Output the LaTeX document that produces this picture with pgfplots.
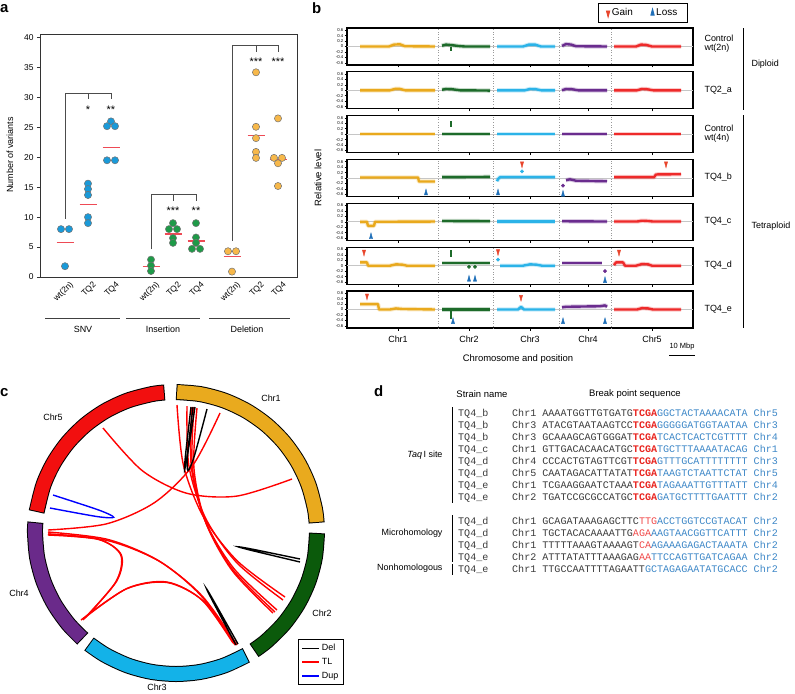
\documentclass[border=0pt]{standalone}
\usepackage{fontspec}
\setmainfont{Liberation Sans}
\setmonofont{Liberation Mono}
\usepackage{pgfplots}
\pgfplotsset{compat=1.18}
\definecolor{snv}{HTML}{1A9AD9}
\definecolor{ins}{HTML}{1E9A48}
\definecolor{del}{HTML}{F7B84A}
\definecolor{meanred}{HTML}{EE4A55}
\definecolor{cone}{HTML}{E9A91D}
\definecolor{ctwo}{HTML}{1D6B2A}
\definecolor{cthree}{HTML}{2BB3E8}
\definecolor{cfour}{HTML}{6A2C8E}
\definecolor{cfive}{HTML}{EE2A2A}
\definecolor{gainred}{HTML}{E8452C}
\definecolor{lossblue}{HTML}{1F6FB8}
\definecolor{ringone}{HTML}{E9AA1E}
\definecolor{ringtwo}{HTML}{0B5A0B}
\definecolor{ringthree}{HTML}{13B2E8}
\definecolor{ringfour}{HTML}{6A2A8A}
\definecolor{ringfive}{HTML}{F20F0F}
\definecolor{seqgray}{HTML}{3A3A3A}
\definecolor{seqblue}{HTML}{3D87C7}
\definecolor{seqred}{HTML}{E8231E}
\definecolor{seqredl}{HTML}{F04A4A}
\newcommand{\fs}[1]{\fontsize{#1}{#1}\selectfont}
\newcommand{\R}[1]{\textcolor{seqred}{\bfseries #1}}
\newcommand{\Rl}[1]{\textcolor{seqredl}{#1}}
\newcommand{\B}[1]{\textcolor{seqblue}{#1}}
\newcommand{\srow}[3]{%
 \node[anchor=base west, inner sep=0pt, font=\ttfamily\fs{10.1}, text=seqgray] at (458bp,-#1bp) {#2};
 \node[anchor=base west, inner sep=0pt, font=\ttfamily\fs{10.1}, text=seqgray] at (512bp,-#1bp) {#3};}
\pgfplotsset{
  pa/.style={only marks, mark=*, mark size=3.6bp, mark options={fill=#1, draw=black!55, line width=0.5bp}},
  ch/.style={forget plot, line width=2.4bp, line join=round, preaction={draw, line width=4.4bp, opacity=0.25}},
  gain/.style={forget plot, only marks, mark=triangle*, color=gainred, mark size=2.6bp, mark options={rotate=180, xscale=0.7, yscale=1.5}},
  loss/.style={forget plot, only marks, mark=triangle*, color=lossblue, mark size=2.6bp, mark options={xscale=0.7, yscale=1.5}},
  dot/.style={forget plot, only marks, mark=*, mark size=1.7bp},
  spike/.style={forget plot, line width=1.4bp},
  lk/.style={forget plot, smooth, line width=1.4bp},
  baxis/.style={scale only axis, width=346bp, height=37bp, xmin=347, xmax=693, ymin=-0.68, ymax=0.68,
    ytick={-0.6,-0.4,-0.2,0,0.2,0.4,0.6}, yticklabels={-0.6,-0.4,-0.2,0,0.2,0.4,0.6},
    yticklabel style={font=\fs{4.3}, inner sep=1pt},
    ytick pos=left, xtick pos=bottom, tick align=outside,
    xtick={398,469,530,588,652}, xticklabels={},
    axis line style={line width=1.3bp}, major tick length=2.5bp, tick style={line width=0.6bp, black},
    clip=true},
}
\newcommand{\brow}[3]{%
\begin{axis}[baxis, at={(347bp,-#1bp)}, anchor=north west, #2]
\addplot[forget plot, gray!45, line width=0.7bp] coordinates {(347,0) (693,0)};
\addplot[forget plot, gray!80, dotted, line width=0.6bp, unbounded coords=jump] coordinates {(438,-1) (438,1) (438,nan) (493,-1) (493,1) (493,nan) (559,-1) (559,1) (559,nan) (611,-1) (611,1)};
#3
\end{axis}}
\begin{document}
\begin{tikzpicture}
\useasboundingbox (0bp,0bp) rectangle (795bp,-694bp);
% ---------------- panel letters
\node[anchor=base west, inner sep=0pt, font=\bfseries\fs{15}] at (0bp,-12bp) {a};
\node[anchor=base west, inner sep=0pt, font=\bfseries\fs{15}] at (312bp,-13bp) {b};
\node[anchor=base west, inner sep=0pt, font=\bfseries\fs{15}] at (0bp,-396bp) {c};
\node[anchor=base west, inner sep=0pt, font=\bfseries\fs{15}] at (374bp,-396bp) {d};
% ---------------- panel a
\begin{axis}[
  scale only axis, width=257bp, height=243bp, at={(40bp,-277bp)}, anchor=south west,
  xmin=40, xmax=297, ymin=0, ymax=40.6, clip=false,
  ytick={0,5,10,15,20,25,30,35,40}, ytick pos=left, tick align=outside, major tick length=3bp,
  xtick={65,88,111,151,173,196,232,256,278},
  xticklabels={wt(2n),TQ2,TQ4,wt(2n),TQ2,TQ4,wt(2n),TQ2,TQ4},
  x tick style={draw=none},
  xticklabel style={rotate=45, anchor=north east, font=\fs{8.5}, inner sep=0.5pt, yshift=-3bp, xshift=3bp},
  yticklabel style={font=\fs{8.5}},
  /pgf/number format/assume math mode=true,
  axis line style={line width=0.8bp, black!80}, tick style={line width=0.8bp, black!80},
]
\addplot[black!70, line width=0.8bp, unbounded coords=jump] coordinates {(65,9.7) (65,30.7) (111,30.7) (111,29.7) (111,nan) (88,30.7) (88,29.7) (88,nan) (151,4.6) (151,13.8) (196,13.8) (196,12.7) (196,nan) (173,13.8) (173,12.7) (173,nan) (232,6.0) (232,38.7) (278,38.7) (278,37.6) (278,nan) (256,38.7) (256,37.6)};
\addplot[pa=snv] coordinates {(61,8.0) (69,8.0) (65,1.8) (88,15.6) (88,14.7) (88,13.7) (88,10.0) (88,9.0) (111,26.0) (107,25.2) (115,25.2) (107,19.5) (115,19.5)};
\addplot[pa=ins] coordinates {(151,2.9) (151,1.9) (151,1.0) (173,9.0) (169,8.0) (177,8.0) (173,6.5) (173,5.7) (196,9.0) (196,6.6) (196,5.7) (192,4.7) (200,4.7)};
\addplot[pa=del] coordinates {(228,4.3) (236,4.3) (232,0.9) (256,34.2) (256,25.1) (256,23.2) (256,20.9) (256,19.9) (278,26.5) (274,19.9) (282,19.9) (278,19.0) (278,15.2)};
\addplot[meanred, line width=1.2bp, unbounded coords=jump] coordinates {(56.5,5.7) (73.5,5.7) (65,nan) (79.5,12.1) (96.5,12.1) (88,nan) (102.5,21.6) (119.5,21.6) (111,nan) (142.5,1.8) (159.5,1.8) (151,nan) (164.5,7.2) (181.5,7.2) (173,nan) (187.5,6.0) (204.5,6.0) (196,nan) (223.5,3.4) (240.5,3.4) (232,nan) (247.5,23.6) (264.5,23.6) (256,nan) (269.5,19.6) (286.5,19.6)};
\node[font=\fs{11}] at (axis cs:88,28.0) {*};
\node[font=\fs{11}] at (axis cs:111,28.0) {**};
\node[font=\fs{11}] at (axis cs:173,11.0) {***};
\node[font=\fs{11}] at (axis cs:196,11.0) {**};
\node[font=\fs{11}] at (axis cs:256,36.0) {***};
\node[font=\fs{11}] at (axis cs:278,36.0) {***};
\end{axis}
\node[rotate=90, font=\fs{9}] at (10bp,-155bp) {Number of variants};
\draw[line width=0.7bp, black!75] (45bp,-318bp) -- (120bp,-318bp);
\draw[line width=0.7bp, black!75] (126bp,-318bp) -- (200bp,-318bp);
\draw[line width=0.7bp, black!75] (209bp,-318bp) -- (290bp,-318bp);
\node[font=\fs{9}] at (83bp,-329bp) {SNV};
\node[font=\fs{9}] at (163bp,-329bp) {Insertion};
\node[font=\fs{9}] at (247bp,-329bp) {Deletion};
% ---------------- panel b
\brow{28}{legend style={at={(0.855,1.405)}, anchor=center, legend columns=2, draw=black, line width=0.8bp, font=\fs{10}, inner xsep=8bp, inner ysep=3.5bp, /tikz/every even column/.append style={column sep=16bp}}}{%
\addlegendimage{only marks, mark=triangle*, color=gainred, mark size=2.8bp, mark options={rotate=180, xscale=0.7, yscale=1.5}}\addlegendentry{Gain}
\addlegendimage{only marks, mark=triangle*, color=lossblue, mark size=2.8bp, mark options={xscale=0.7, yscale=1.5}}\addlegendentry{Loss}
\addplot[cone, ch] coordinates {(360,0) (389,0) (394,0.07) (400,0.08) (405,0.01) (435,0)};
\addplot[ctwo, ch] coordinates {(442,0.03) (446,0.07) (452,0.05) (458,0.02) (465,0) (490,0)};
\addplot[ctwo, spike] coordinates {(451,-0.03) (451,-0.15)};
\addplot[cthree, ch] coordinates {(497,0) (523,0) (529,0.07) (535,0.07) (541,0) (555,0)};
\addplot[cfour, ch] coordinates {(562,0.02) (566,0.09) (571,0.07) (576,0.01) (607,0)};
\addplot[cfive, ch] coordinates {(614,0) (636,0) (641,0.07) (646,0.06) (652,0) (681,0)};
}
\brow{71.8}{}{%
\addplot[cone, ch] coordinates {(360,0) (390,0) (395,0.05) (400,0.05) (405,0) (435,0)};
\addplot[ctwo, ch] coordinates {(442,0.02) (446,0.05) (452,0.04) (460,0) (490,-0.01)};
\addplot[cthree, ch] coordinates {(497,0) (525,0) (530,0.05) (536,0.04) (541,0) (555,0)};
\addplot[cfour, ch] coordinates {(562,0) (566,0.05) (572,0.04) (578,0) (607,0)};
\addplot[cfive, ch] coordinates {(614,0) (637,0) (642,0.05) (647,0.04) (653,0) (681,0)};
}
\brow{115.7}{}{%
\addplot[cone, ch] coordinates {(360,0.01) (435,0.01)};
\addplot[ctwo, ch] coordinates {(442,0) (490,0)};
\addplot[ctwo, spike] coordinates {(451,0.26) (451,0.48)};
\addplot[cthree, ch] coordinates {(497,0) (555,0)};
\addplot[cfour, ch] coordinates {(562,0) (607,0)};
\addplot[cfive, ch] coordinates {(614,0) (681,0)};
}
\brow{159.5}{}{%
\addplot[cone, ch] coordinates {(360,0.02) (418,0.02) (419,-0.13) (435,-0.13)};
\addplot[loss] coordinates {(426,-0.55)};
\addplot[ctwo, ch] coordinates {(442,0.03) (490,0.04)};
\addplot[cthree, ch] coordinates {(497,-0.12) (498,-0.04) (500,0.03) (555,0.03)};
\addplot[cthree, dot] coordinates {(522,0.24)};
\addplot[gain] coordinates {(522,0.52)};
\addplot[loss] coordinates {(498,-0.55) (563,-0.6)};
\addplot[cfour, dot] coordinates {(563,-0.28)};
\addplot[cfour, ch] coordinates {(566,-0.08) (570,-0.05) (576,-0.1) (607,-0.12)};
\addplot[cfive, ch] coordinates {(614,0.03) (654,0.03) (656,0.13) (681,0.14)};
\addplot[gain] coordinates {(666,0.52)};
}
\brow{203.3}{}{%
\addplot[cone, ch] coordinates {(360,0) (367,0) (368,-0.15) (374,-0.15) (375,0) (435,0.01)};
\addplot[loss] coordinates {(371,-0.55)};
\addplot[ctwo, ch] coordinates {(442,0.03) (490,0.02)};
\addplot[cthree, ch] coordinates {(497,0.01) (555,0.01)};
\addplot[cfour, ch] coordinates {(562,0.02) (607,0.01)};
\addplot[cfive, ch] coordinates {(614,0.01) (637,0.01) (642,0.04) (648,0.03) (653,0.01) (681,0.01)};
}
\brow{247.2}{}{%
\addplot[cone, ch] coordinates {(360,0.12) (367,0.12) (368,0) (390,0) (396,0.05) (402,0.04) (407,0) (435,0)};
\addplot[gain] coordinates {(364,0.5)};
\addplot[ctwo, ch] coordinates {(442,0.1) (490,0.1)};
\addplot[ctwo, spike] coordinates {(451,0.32) (451,0.58)};
\addplot[ctwo, dot] coordinates {(469,-0.04) (475,-0.04)};
\addplot[loss] coordinates {(469,-0.5) (475,-0.5)};
\addplot[cthree, dot] coordinates {(498,0.22)};
\addplot[gain] coordinates {(498,0.52)};
\addplot[cthree, ch] coordinates {(500,0) (523,0) (530,0.05) (536,0.04) (542,0) (555,0)};
\addplot[cfour, ch] coordinates {(562,0.1) (602,0.1)};
\addplot[cfour, dot] coordinates {(605,-0.2)};
\addplot[loss] coordinates {(605,-0.55)};
\addplot[cfive, ch] coordinates {(614,0.02) (616,0.12) (623,0.12) (625,0) (636,0) (642,0.06) (648,0.05) (652,0) (681,0)};
\addplot[gain] coordinates {(619,0.5)};
}
\brow{291}{xticklabels={Chr1,Chr2,Chr3,Chr4,Chr5}, xticklabel style={font=\fs{9}, yshift=-2bp}}{%
\addplot[cone, ch] coordinates {(360,0.2) (378,0.2) (379,0) (390,0) (396,0.04) (402,0.02) (435,0)};
\addplot[gain] coordinates {(367,0.5)};
\addplot[ctwo, ch] coordinates {(442,0) (490,0)};
\addplot[ctwo, spike] coordinates {(451,-0.05) (451,-0.35)};
\addplot[loss] coordinates {(453,-0.45)};
\addplot[cthree, ch] coordinates {(497,0) (518,0) (521,0.1) (524,0) (555,0)};
\addplot[gain] coordinates {(521,0.45)};
\addplot[cfour, ch] coordinates {(562,0.08) (566,0.1) (600,0.12) (605,0.15) (607,0.1)};
\addplot[loss] coordinates {(563,-0.45) (605,-0.45)};
\addplot[cfive, ch] coordinates {(614,0) (637,0) (642,0.05) (648,0.04) (653,0) (681,0)};
}
\node[rotate=90, font=\fs{9.5}] at (318bp,-178bp) {Relative level};
\node[font=\fs{9.5}] at (518bp,-359bp) {Chromosome and position};
\node[font=\fs{7.5}] at (682bp,-347bp) {10 Mbp};
\draw[line width=0.8bp] (669bp,-355bp) -- (695bp,-355bp);
\node[anchor=west, align=left, font=\fs{9}] at (701bp,-44bp) {Control\\wt(2n)};
\node[anchor=west, font=\fs{9}] at (701bp,-90bp) {TQ2\_a};
\node[anchor=west, align=left, font=\fs{9}] at (701bp,-134bp) {Control\\wt(4n)};
\node[anchor=west, font=\fs{9}] at (701bp,-177bp) {TQ4\_b};
\node[anchor=west, font=\fs{9}] at (701bp,-221bp) {TQ4\_c};
\node[anchor=west, font=\fs{9}] at (701bp,-265bp) {TQ4\_d};
\node[anchor=west, font=\fs{9}] at (701bp,-309bp) {TQ4\_e};
\draw[line width=0.7bp] (743bp,-28bp) -- (743bp,-110bp);
\draw[line width=0.7bp] (743bp,-115bp) -- (743bp,-328bp);
\node[anchor=west, font=\fs{9}] at (748bp,-64bp) {Diploid};
\node[anchor=west, font=\fs{9}] at (748bp,-226bp) {Tetraploid};
% ---------------- panel c
\begin{axis}[scale only axis, hide axis, width=352bp, height=320bp, at={(0bp,-693bp)}, anchor=south west,
  xmin=-176, xmax=176, ymin=-160, ymax=160, clip=false,
  legend style={at={(0.8466,0.1688)}, anchor=north west, draw=black, line width=0.8bp, font=\fs{9}, row sep=2bp, inner sep=3bp},
  legend cell align=left]
\addlegendimage{black, line width=1.5bp}\addlegendentry{Del}
\addlegendimage{red, line width=1.5bp}\addlegendentry{TL}
\addlegendimage{blue, line width=1.5bp}\addlegendentry{Dup\hspace{14bp}}
% ring
\addplot[forget plot, black, line width=16bp, smooth, data cs=polar] coordinates {(89.9,141) (80,141) (70,141) (60,141) (50,141) (40,141) (30,141) (20,141) (10,141) (4.1,141)};
\addplot[forget plot, ringone, line width=14bp, smooth, data cs=polar] coordinates {(89.5,141) (80,141) (70,141) (60,141) (50,141) (40,141) (30,141) (20,141) (10,141) (4.5,141)};
\addplot[forget plot, black, line width=16bp, smooth, data cs=polar] coordinates {(-0.0,141) (-10,141) (-20,141) (-30,141) (-40,141) (-50,141) (-56.4,141)};
\addplot[forget plot, ringtwo, line width=14bp, smooth, data cs=polar] coordinates {(-0.4,141) (-10,141) (-20,141) (-30,141) (-40,141) (-50,141) (-56,141)};
\addplot[forget plot, black, line width=16bp, smooth, data cs=polar] coordinates {(-60.1,141) (-70,141) (-80,141) (-90,141) (-100,141) (-110,141) (-120,141) (-128.1,141)};
\addplot[forget plot, ringthree, line width=14bp, smooth, data cs=polar] coordinates {(-60.5,141) (-70,141) (-80,141) (-90,141) (-100,141) (-110,141) (-120,141) (-127.7,141)};
\addplot[forget plot, black, line width=16bp, smooth, data cs=polar] coordinates {(-131.4,141) (-140,141) (-150,141) (-160,141) (-170,141) (-180,141) (-184.4,141)};
\addplot[forget plot, ringfour, line width=14bp, smooth, data cs=polar] coordinates {(-131.8,141) (-140,141) (-150,141) (-160,141) (-170,141) (-180,141) (-184,141)};
\addplot[forget plot, black, line width=16bp, smooth, data cs=polar] coordinates {(171.4,141) (160,141) (150,141) (140,141) (130,141) (120,141) (110,141) (100,141) (94.6,141)};
\addplot[forget plot, ringfive, line width=14bp, smooth, data cs=polar] coordinates {(171,141) (160,141) (150,141) (140,141) (130,141) (120,141) (110,141) (100,141) (95,141)};
% TL links
\addplot[lk, red] coordinates {(-73,105) (-33.8,62.4) (10.75,39.75) (60.7,36.9) (116,54)};
\addplot[lk, red] coordinates {(-128,3) (-69.3,9.2) (-21,30.75) (16.8,67.7) (44,120)};
\addplot[lk, red] coordinates {(1,128) (7.4,68) (27.5,16) (61.4,-28) (109,-64)};
\addplot[lk, red] coordinates {(11,127) (12.9,67.2) (29.5,15) (60.9,-29.8) (107,-67)};
\addplot[lk, red] coordinates {(16,126) (15.3,66.1) (29.25,12.25) (57.8,-35.4) (101,-77)};
\addplot[lk, red] coordinates {(18,126) (16.3,65.9) (29.25,11.75) (56.8,-36.6) (99,-79)};
\addplot[lk, red] coordinates {(21,125) (17.9,65.3) (29.5,11.25) (55.9,-37.2) (97,-80)};
\addplot[lk, red] coordinates {(-128,1) (-68.3,-6.4) (-17.25,-27.75) (25.2,-62.9) (59,-112)};
\addplot[lk, red] coordinates {(-128,-1) (-68.2,-7.6) (-16.75,-28.25) (26.3,-63.1) (61,-112)};
\addplot[lk, red] coordinates {(-128,-1) (-77.8,-6) (-55.25,-22) (-60.3,-49) (-93,-87)};
\addplot[lk, red] coordinates {(-128,-2) (-77.7,-6.4) (-54.75,-21.75) (-59.2,-47.9) (-91,-85)};
\addplot[lk, red] coordinates {(-93,-86) (-48.7,-55.3) (-9,-49) (26.3,-67.3) (57,-110)};
\addplot[lk, red] coordinates {(-95,-87) (-49.7,-55.9) (-9,-49.5) (27.2,-67.9) (59,-111)};
% Del links
\addplot[lk, black] coordinates {(17,126) (11.5,78.6) (12,62.5) (18.5,77.6) (31,124)};
\addplot[lk, black] coordinates {(15,126) (9.6,78.8) (8.5,63) (11.6,78.8) (19,126)};
\addplot[lk, black] coordinates {(124,-26) (77.5,-16.4) (62,-13.75) (77.5,-17.9) (124,-29)};
\addplot[lk, black] coordinates {(60,-112) (37.6,-69.9) (30.5,-55.75) (38.6,-69.4) (62,-111)};
% Dup link
\addplot[lk, blue] coordinates {(-123,38) (-77.1,22.9) (-62.25,15.75) (-78.6,16.4) (-126,25)};
\end{axis}
\node[font=\fs{9}] at (271bp,-398bp) {Chr1};
\node[font=\fs{9}] at (53bp,-417bp) {Chr5};
\node[font=\fs{9}] at (19bp,-593bp) {Chr4};
\node[font=\fs{9}] at (322bp,-613bp) {Chr2};
\node[font=\fs{9}] at (157bp,-687bp) {Chr3};
% ---------------- panel d
\node[font=\fs{9.5}] at (482bp,-394bp) {Strain name};
\node[font=\fs{9.5}] at (635bp,-394bp) {Break point sequence};
\srow{416.5}{TQ4\_b}{Chr1 AAAATGGTTGTGATG\R{TCGA}\B{GGCTACTAAAACATA Chr5}}
\srow{428.5}{TQ4\_b}{Chr3 ATACGTAATAAGTCC\R{TCGA}\B{GGGGGATGGTAATAA Chr3}}
\srow{440.5}{TQ4\_b}{Chr3 GCAAAGCAGTGGGAT\R{TCGA}\B{TCACTCACTCGTTTT Chr4}}
\srow{452.5}{TQ4\_c}{Chr1 GTTGACACAACATGC\R{TCGA}\B{TGCTTTAAAATACAG Chr1}}
\srow{464.5}{TQ4\_d}{Chr4 CCCACTGTAGTTCGT\R{TCGA}\B{GTTTGCATTTTTTTT Chr3}}
\srow{476.5}{TQ4\_d}{Chr5 CAATAGACATTATAT\R{TCGA}\B{TAAGTCTAATTCTAT Chr5}}
\srow{488.5}{TQ4\_e}{Chr1 TCGAAGGAATCTAAA\R{TCGA}\B{TAGAAATTGTTTATT Chr4}}
\srow{500.5}{TQ4\_e}{Chr2 TGATCCGCGCCATGC\R{TCGA}\B{GATGCTTTTGAATTT Chr2}}
\srow{524.5}{TQ4\_d}{Chr1 GCAGATAAAGAGCTTC\Rl{TTG}\B{ACCTGGTCCGTACAT Chr2}}
\srow{536.5}{TQ4\_d}{Chr1 TGCTACACAAAATTG\Rl{AGA}\B{AAGTAACGGTTCATTT Chr2}}
\srow{548.5}{TQ4\_d}{Chr1 TTTTTAAAGTAAAAGT\Rl{CA}\B{AGAAAGAGACTAAATA Chr2}}
\srow{560.5}{TQ4\_e}{Chr2 ATTTATATTTAAAGAG\Rl{AA}\B{TTCCAGTTGATCAGAA Chr2}}
\srow{572.5}{TQ4\_e}{Chr1 TTGCCAATTTTAGAATT\B{GCTAGAGAATATGCACC Chr2}}
\draw[line width=0.6bp] (452bp,-407bp) -- (452bp,-503bp);
\draw[line width=0.6bp] (452bp,-515bp) -- (452bp,-562bp);
\draw[line width=0.6bp] (452bp,-564bp) -- (452bp,-575bp);
\node[anchor=east, font=\fs{9}] at (446bp,-455bp) {\textit{Taq}\,I site};
\node[anchor=east, font=\fs{9}] at (446bp,-533bp) {Microhomology};
\node[anchor=east, font=\fs{9}] at (446bp,-568bp) {Nonhomologous};
\end{tikzpicture}
\end{document}
